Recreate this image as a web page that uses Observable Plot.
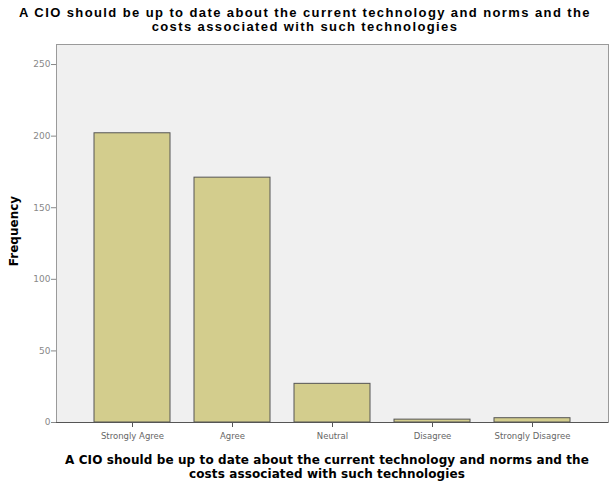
<!DOCTYPE html>
<html>
<head>
<meta charset="utf-8">
<script src="https://cdn.jsdelivr.net/npm/d3@7"></script>
<script src="https://cdn.jsdelivr.net/npm/@observablehq/plot@0.6"></script>
<style>
  html, body { margin: 0; padding: 0; background: #fff; }
  #wrap { width: 610px; height: 484px; position: relative; }
  .title { position: absolute; left: 0; width: 610px; text-align: center;
    font-family: "Liberation Sans", Arial, sans-serif; font-weight: bold; font-size: 13px; letter-spacing: 1.4px; line-height: 14px; color: #000; }
  .xtitle { position: absolute; left: 22px; width: 610px; text-align: center;
    font-family: "DejaVu Sans", Verdana, sans-serif; font-weight: bold; font-size: 12px; letter-spacing: 0.1px; line-height: 14px; color: #000; }
  .ylab { position: absolute; left: 14px; top: 231px; width: 100px; margin-left: -50px; margin-top: -7px; height: 14px; line-height: 14px;
    text-align: center; transform: rotate(-90deg);
    font-family: "DejaVu Sans", Verdana, sans-serif; font-weight: bold; font-size: 12px; color: #000; }
  #chart { position: absolute; left: 0; top: 40px; }
</style>
</head>
<body>
<div id="wrap">
  <div class="title" style="top:6px">A CIO should be up to date about the current technology and norms and the<br>costs associated with such technologies</div>
  <div id="chart"></div>
  <div class="ylab">Frequency</div>
  <div class="xtitle" style="top:453px">A CIO should be up to date about the current technology and norms and the<br>costs associated with such technologies</div>
</div>
<script>
const categories = ["Strongly Agree", "Agree", "Neutral", "Disagree", "Strongly Disagree"];
const frequencies = [202, 171, 27, 2, 3];
const yTicks = [0, 50, 100, 150, 200, 250];

const data = categories.map((c, i) => ({category: c, value: frequencies[i]}));

const chart = Plot.plot({
  width: 610,
  height: 410,
  marginTop: 4,
  marginLeft: 56,
  marginRight: 2,
  marginBottom: 28,
  style: {fontFamily: "'DejaVu Sans', Verdana, sans-serif", background: "transparent"},
  x: {domain: categories, paddingInner: 0.24, paddingOuter: 0.38, label: null},
  y: {domain: [0, 264], ticks: yTicks, label: null},
  marks: [
    Plot.frame({fill: "#f0f0f0", stroke: "#9a9a9a"}),
    Plot.barY(data, {x: "category", y: "value", fill: "#d3cd8d", stroke: "#555", strokeWidth: 1}),
    Plot.axisX({tickSize: 5, tickPadding: 5, fontSize: 8.5, color: "#666", stroke: "#555"}),
    Plot.axisY({ticks: yTicks, tickSize: 5, tickPadding: 1, fontSize: 9, color: "#888", label: null}),
    Plot.ruleY([0], {stroke: "#555"}),
    Plot.ruleX([0], {frameAnchor: "left", stroke: "#777"})
  ]
});
document.getElementById("chart").appendChild(chart);
</script>
</body>
</html>
